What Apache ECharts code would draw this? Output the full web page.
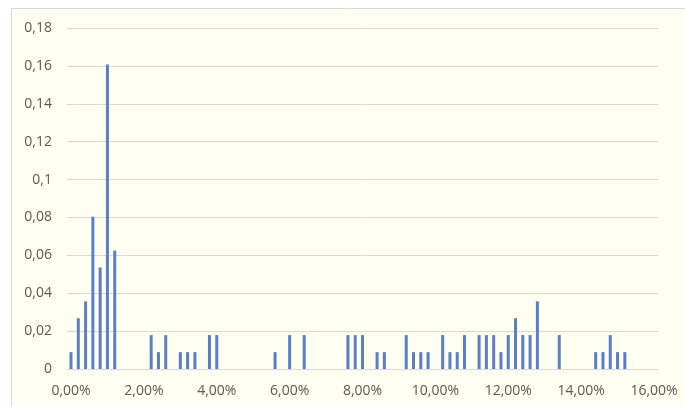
<!DOCTYPE html>
<html>
<head>
<meta charset="utf-8">
<script src="https://cdn.jsdelivr.net/npm/echarts@6/dist/echarts.min.js"></script>
<style>
html,body{margin:0;padding:0;background:#ffffff;}
#c{width:685px;height:406px;}
</style>
</head>
<body>
<div id="c"></div>
<script>
// Bin positions (percent) and relative frequencies
const binPercent = [0, 0.2, 0.4, 0.6, 0.8, 1.0, 1.2,
  2.2, 2.4, 2.6, 3.0, 3.2, 3.4, 3.8, 4.0,
  5.6, 6.0, 6.4, 7.6, 7.8, 8.0, 8.4, 8.6,
  9.2, 9.4, 9.6, 9.8, 10.2, 10.4, 10.6, 10.8,
  11.2, 11.4, 11.6, 11.8, 12.0, 12.2, 12.4, 12.6, 12.8,
  13.4, 14.4, 14.6, 14.8, 15.0, 15.2];
const frequency = [0.0089, 0.0268, 0.0357, 0.0804, 0.0536, 0.1607, 0.0625,
  0.0179, 0.0089, 0.0179, 0.0089, 0.0089, 0.0089, 0.0179, 0.0179,
  0.0089, 0.0179, 0.0179, 0.0179, 0.0179, 0.0179, 0.0089, 0.0089,
  0.0179, 0.0089, 0.0089, 0.0089, 0.0179, 0.0089, 0.0089, 0.0179,
  0.0179, 0.0179, 0.0179, 0.0089, 0.0179, 0.0268, 0.0179, 0.0179, 0.0357,
  0.0179, 0.0089, 0.0089, 0.0179, 0.0089, 0.0089];
const xTickValues = [0, 2, 4, 6, 8, 10, 12, 14, 16];

const chart = echarts.init(document.getElementById('c'), null, {renderer: 'canvas'});
const fmtY = v => String(+v.toFixed(2)).replace('.', ',');
const fmtX = v => v.toFixed(2).replace('.', ',') + '%';
chart.setOption({
  animation: false,
  backgroundColor: '#ffffff',
  graphic: [{
    type: 'rect', z: -10, silent: true,
    shape: {x: 11.5, y: 8.5, width: 700, height: 420},
    style: {fill: '#fefef1', stroke: '#d9d9d9', lineWidth: 1}
  }],
  grid: {left: 67, right: 27, top: 28, bottom: 37, containLabel: false},
  xAxis: {
    type: 'value', min: -0.11, max: 16.11,
    axisLine: {show: true, lineStyle: {color: '#d9d9d9', width: 1}},
    axisTick: {show: false},
    splitLine: {show: false},
    axisLabel: {
      customValues: xTickValues,
      formatter: fmtX, color: '#595959', fontFamily: 'Open Sans', fontSize: 14, margin: 15
    }
  },
  yAxis: {
    type: 'value', min: 0, max: 0.18, interval: 0.02,
    axisLine: {show: false}, axisTick: {show: false},
    splitLine: {lineStyle: {color: '#d9d9d9', width: 1}},
    axisLabel: {formatter: fmtY, color: '#595959', fontFamily: 'Open Sans', fontSize: 14, margin: 15}
  },
  series: [{
    type: 'bar',
    data: binPercent.map((x, i) => [x, frequency[i]]),
    barWidth: 3,
    itemStyle: {color: '#5b7fc6'}
  }]
});
</script>
</body>
</html>
